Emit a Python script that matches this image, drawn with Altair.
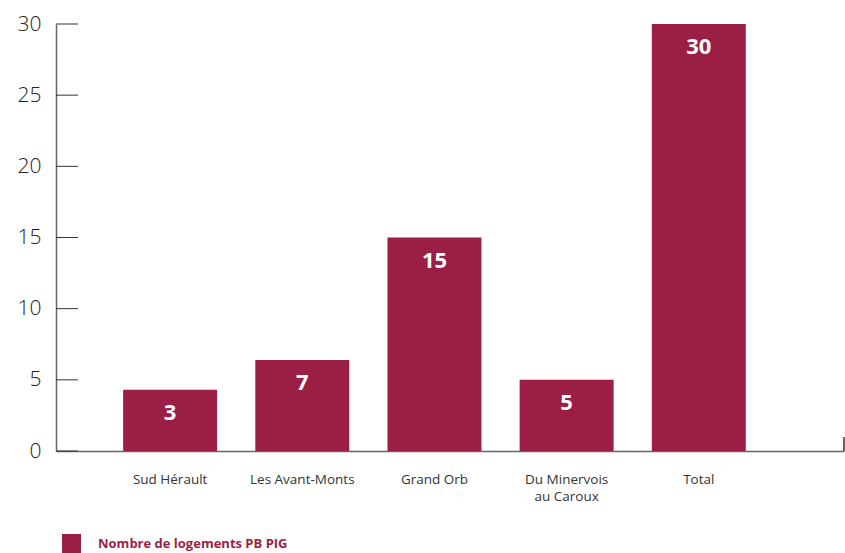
import altair as alt
import pandas as pd

categories = ["Sud Hérault", "Les Avant-Monts", "Grand Orb", "Du Minervois|au Caroux", "Total"]
bar_heights = [4.3, 6.4, 15, 5, 30]
bar_labels = ["3", "7", "15", "5", "30"]
series_name = "Nombre de logements PB PIG"
y_ticks = [0, 5, 10, 15, 20, 25, 30]

BAR = "#9B1F44"
FONT = "Open Sans"

df = pd.DataFrame({
    "cat": categories,
    "val": bar_heights,
    "lab": bar_labels,
    "series": [series_name] * len(categories),
})
ticks_df = pd.DataFrame({"t": y_ticks})

x_scale = alt.Scale(domain=categories, paddingInner=0.288, paddingOuter=0.625, align=0.406)
y_scale = alt.Scale(domain=[0, 30], nice=False, zero=True)

bars = alt.Chart(df).mark_bar(size=94).encode(
    x=alt.X("cat:N", scale=x_scale, sort=categories, title=None,
            axis=alt.Axis(labelAngle=0, ticks=False, domain=True, domainColor="#666666",
                          domainWidth=1.5, labelFontSize=13.5, labelColor="#333333",
                          labelFont=FONT, labelPadding=21, labelLineHeight=17,
                          labelExpr="split(datum.value, '|')")),
    y=alt.Y("val:Q", scale=y_scale, title=None,
            axis=alt.Axis(values=y_ticks, ticks=False, grid=False, domainColor="#666666",
                          domainWidth=1.5, labelFontSize=21, labelFontWeight=300,
                          labelColor="#222222", labelFont=FONT, labelPadding=15)),
    color=alt.Color("series:N", scale=alt.Scale(range=[BAR]), title=None,
                    legend=alt.Legend(orient="none", legendX=6, legendY=510,
                                      symbolType="square", symbolSize=361,
                                      symbolStrokeWidth=0, symbolOpacity=1,
                                      labelFontSize=13, labelFontWeight="bold",
                                      labelColor=BAR, labelFont=FONT, labelOffset=17,
                                      labelLimit=400)),
)

texts = alt.Chart(df).mark_text(color="white", fontSize=22, fontWeight="bold",
                                font=FONT, baseline="middle", dy=23).encode(
    x=alt.X("cat:N", scale=x_scale, sort=categories),
    y=alt.Y("val:Q", scale=y_scale),
    text="lab:N",
)

tick_rules = alt.Chart(ticks_df).mark_rule(color="#333333", strokeWidth=1).encode(
    x=alt.value(0), x2=alt.value(22),
    y=alt.Y("t:Q", scale=y_scale),
)

end_tick = alt.Chart(pd.DataFrame({"t": [0]})).mark_rule(color="#333333", strokeWidth=1.5).encode(
    x=alt.value(788), y=alt.Y("t:Q", scale=y_scale), y2=alt.value(413),
)

chart = alt.layer(bars, texts, tick_rules, end_tick).properties(
    width=788, height=427,
    view=alt.ViewBackground(stroke="transparent", strokeWidth=0),
    autosize=alt.AutoSizeParams(type="none"),
    padding={"left": 56, "top": 24, "right": 1, "bottom": 102},
).configure_view(stroke="transparent", strokeWidth=0).configure(background="white")

chart.save("out.html", embed_options={"renderer": "svg", "actions": False})
